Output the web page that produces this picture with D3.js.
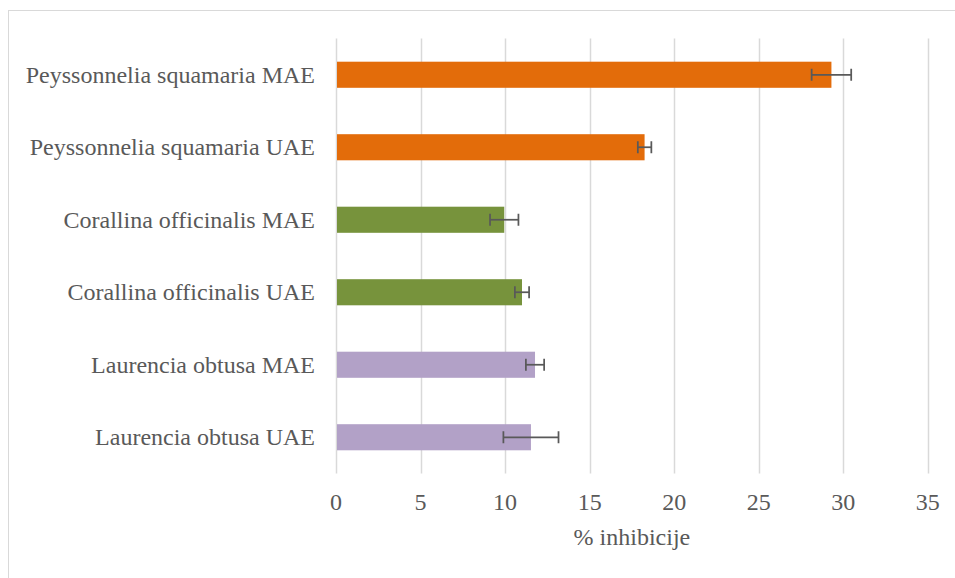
<!DOCTYPE html>
<html>
<head>
<meta charset="utf-8">
<script src="https://cdn.jsdelivr.net/npm/d3@7"></script>
<style>
  html, body { margin: 0; padding: 0; background: #fff; }
  svg { display: block; }
</style>
</head>
<body>
<script>
const categories = [
  "Peyssonnelia squamaria MAE",
  "Peyssonnelia squamaria UAE",
  "Corallina officinalis MAE",
  "Corallina officinalis UAE",
  "Laurencia obtusa MAE",
  "Laurencia obtusa UAE"
];
const values = [29.3, 18.25, 9.95, 11.0, 11.77, 11.53];
const errors = [1.17, 0.4, 0.84, 0.42, 0.54, 1.63];
const barColors = ["#E36C0A", "#E36C0A", "#77933C", "#77933C", "#B2A1C7", "#B2A1C7"];
const xTicks = [0, 5, 10, 15, 20, 25, 30, 35];
const xTitle = "% inhibicije";

const FONT = "'Liberation Serif', 'Times New Roman', Times, 'DejaVu Serif', serif";
const W = 955, H = 578;
const svg = d3.select("body").append("svg").attr("width", W).attr("height", H)
  .attr("font-family", FONT);

// chart border
svg.append("rect").attr("x", 8.5).attr("y", 10.5).attr("width", 960).attr("height", 600)
  .attr("fill", "none").attr("stroke", "#d9d9d9").attr("stroke-width", 1);

const pLeft = 336, pRight = 927.8, pTop = 38.5, pBottom = 473.5;
const x = d3.scaleLinear().domain([0, 35]).range([pLeft, pRight]);
const y = d3.scaleBand().domain(categories).range([pTop, pBottom]).paddingInner(0.64).paddingOuter(0.32);

// gridlines
svg.append("g").selectAll("line").data(xTicks).join("line")
  .attr("x1", d => Math.round(x(d)) + 0.5).attr("x2", d => Math.round(x(d)) + 0.5)
  .attr("y1", pTop).attr("y2", pBottom)
  .attr("stroke", "#d9d9d9").attr("stroke-width", 1.5);

// bars
svg.append("g").selectAll("rect").data(categories).join("rect")
  .attr("x", x(0) + 1)
  .attr("y", d => y(d))
  .attr("width", (d, i) => x(values[i]) - x(0) - 1)
  .attr("height", y.bandwidth())
  .attr("fill", (d, i) => barColors[i]);

// error bars
const eb = svg.append("g").attr("stroke", "#595959").attr("stroke-width", 1.75);
categories.forEach((c, i) => {
  const cy = y(c) + y.bandwidth() / 2;
  const x1 = x(values[i] - errors[i]), x2 = x(values[i] + errors[i]);
  eb.append("line").attr("x1", x1).attr("x2", x2).attr("y1", cy).attr("y2", cy);
  eb.append("line").attr("x1", x1).attr("x2", x1).attr("y1", cy - 6).attr("y2", cy + 6);
  eb.append("line").attr("x1", x2).attr("x2", x2).attr("y1", cy - 6).attr("y2", cy + 6);
});

// category labels
svg.append("g").selectAll("text").data(categories).join("text")
  .attr("x", 315)
  .attr("y", d => y(d) + y.bandwidth() / 2)
  .attr("dy", "0.33em")
  .attr("text-anchor", "end")
  .attr("font-size", 24)
  .attr("fill", "#595959")
  .text(d => d);

// x tick labels
svg.append("g").selectAll("text").data(xTicks).join("text")
  .attr("x", d => x(d))
  .attr("y", 510)
  .attr("text-anchor", "middle")
  .attr("font-size", 24)
  .attr("fill", "#595959")
  .text(d => d);

// axis title
svg.append("text")
  .attr("x", (pLeft + pRight) / 2)
  .attr("y", 545)
  .attr("text-anchor", "middle")
  .attr("font-size", 24)
  .attr("fill", "#595959")
  .text(xTitle);
</script>
</body>
</html>
